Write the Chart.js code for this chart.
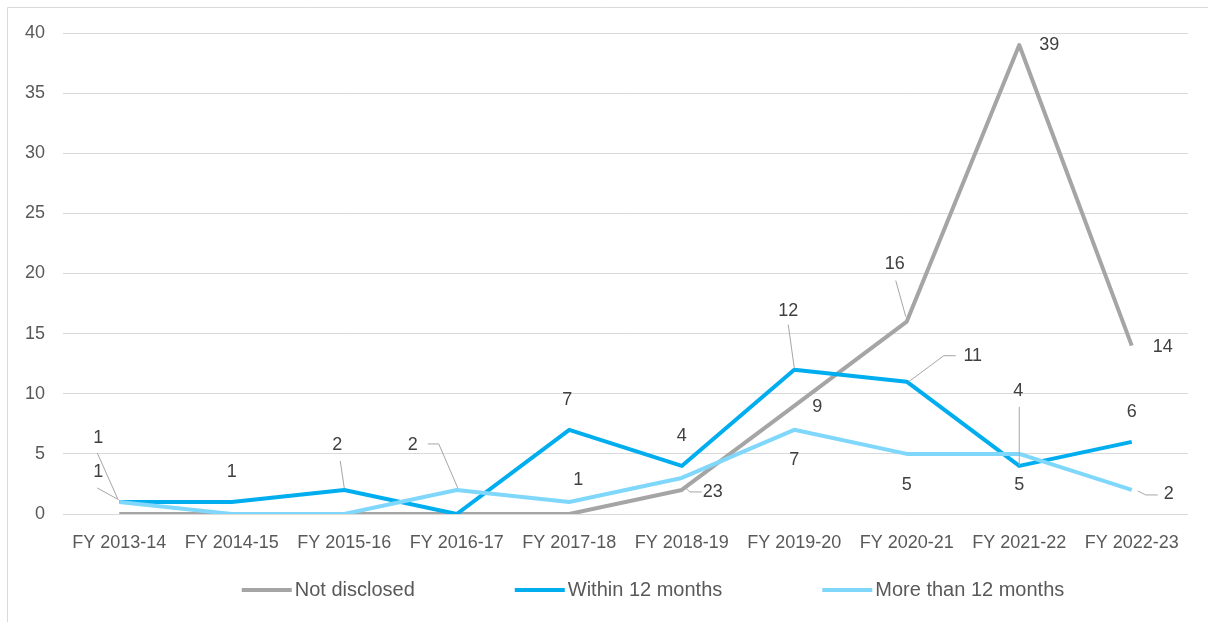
<!DOCTYPE html>
<html>
<head>
<meta charset="utf-8">
<title>Disclosure timing by financial year</title>
<script src="https://cdn.jsdelivr.net/npm/chart.js@4.4.1/dist/chart.umd.min.js"></script>
<style>
  html, body { margin: 0; padding: 0; background: #ffffff; }
  #chart { display: block; }
</style>
</head>
<body>
<canvas id="chart" width="1208" height="622"></canvas>
<script>
// Financial years on the x axis
const fiscalYears = ['FY 2013-14', 'FY 2014-15', 'FY 2015-16', 'FY 2016-17', 'FY 2017-18',
                     'FY 2018-19', 'FY 2019-20', 'FY 2020-21', 'FY 2021-22', 'FY 2022-23'];

// Counts per year for each series
const notDisclosed     = [0, 0, 0, 0, 0, 2, 9, 16, 39, 14];
const within12Months   = [1, 1, 2, 0, 7, 4, 12, 11, 4, 6];
const moreThan12Months = [1, 0, 0, 2, 1, 3, 7, 5, 5, 2];

// Value axis range
const yMin = 0;
const yMax = 40;
const yStep = 5;

// Where each value label sits relative to its point (pixels), with optional leader line
const notDisclosedLabels = {
  5: { at: [26, 2], leader: [[2, -4], [8, 2], [20, 2]] },
  6: { at: [23, 1] },
  7: { at: [-12, -58], leader: [[-1, -5], [-11, -41]] },
  8: { at: [30, 0] },
  9: { at: [31, 1] }
};
const within12Labels = {
  0: { at: [-21, -64], leader: [[-1, -2], [-22, -49]] },
  1: { at: [0, -30] },
  2: { at: [-7, -45], leader: [[0, -2], [-4, -29]] },
  4: { at: [-2, -30] },
  5: { at: [0, -30] },
  6: { at: [-6, -59], leader: [[0, -2], [-6, -45]] },
  7: { at: [66, -26], leader: [[2, 0], [37, -26], [49, -26]] },
  8: { at: [-1, -75], leader: [[0, 0], [0, -59]] },
  9: { at: [0, -30] }
};
const moreThan12Labels = {
  0: { at: [-21, -30], leader: [[-2, -3], [-22, -14]] },
  3: { at: [-44, -45], leader: [[1, -2], [-18, -46], [-29, -46]] },
  4: { at: [9, -22] },
  5: { at: [36, 14] },
  6: { at: [0, 30] },
  7: { at: [0, 31] },
  8: { at: [0, 31] },
  9: { at: [37, 4], leader: [[6, 1], [14, 5], [26, 5]] }
};

const FONT = '"Liberation Sans", Arial, sans-serif';

// White page with a light frame along the top and left edges
const framePlugin = {
  id: 'frame',
  beforeDraw(chart) {
    const ctx = chart.ctx;
    ctx.save();
    ctx.fillStyle = '#ffffff';
    ctx.fillRect(0, 0, chart.width, chart.height);
    ctx.strokeStyle = '#d9d9d9';
    ctx.lineWidth = 1;
    ctx.beginPath();
    ctx.moveTo(7.5, chart.height);
    ctx.lineTo(7.5, 7.5);
    ctx.lineTo(chart.width, 7.5);
    ctx.stroke();
    ctx.restore();
  }
};

// Value labels next to the points, skipping zeros
const pointLabelPlugin = {
  id: 'pointLabels',
  afterDatasetsDraw(chart) {
    const ctx = chart.ctx;
    ctx.save();
    ctx.font = '18px ' + FONT;
    ctx.textAlign = 'center';
    ctx.textBaseline = 'middle';
    chart.data.datasets.forEach((ds, di) => {
      const meta = chart.getDatasetMeta(di);
      const placement = ds.labelPlacement || {};
      meta.data.forEach((pt, i) => {
        const v = ds.data[i];
        const p = placement[i];
        if (!p || !v) return;
        if (p.leader) {
          ctx.strokeStyle = '#a6a6a6';
          ctx.lineWidth = 1;
          ctx.beginPath();
          p.leader.forEach(([dx, dy], k) => {
            if (k === 0) ctx.moveTo(pt.x + dx, pt.y + dy);
            else ctx.lineTo(pt.x + dx, pt.y + dy);
          });
          ctx.stroke();
        }
        ctx.fillStyle = '#404040';
        ctx.fillText(String(v), pt.x + p.at[0], pt.y + p.at[1]);
      });
    });
    ctx.restore();
  }
};

// Legend with long line swatches, centred under the plot
const lineLegendPlugin = {
  id: 'lineLegend',
  afterDraw(chart, args, opts) {
    const ctx = chart.ctx;
    ctx.save();
    ctx.font = opts.fontSize + 'px ' + FONT;
    ctx.textBaseline = 'middle';
    ctx.textAlign = 'left';
    const items = chart.data.datasets.map(ds => ({
      label: ds.label,
      color: ds.borderColor,
      w: ctx.measureText(ds.label).width
    }));
    const total = items.reduce((s, it) => s + opts.swatch + opts.textGap + it.w, 0)
                + opts.itemGap * (items.length - 1);
    let x = opts.centerX - total / 2;
    const y = opts.y;
    items.forEach(it => {
      ctx.fillStyle = it.color;
      ctx.fillRect(x, y - 2, opts.swatch, 4);
      x += opts.swatch + opts.textGap;
      ctx.fillStyle = '#595959';
      ctx.fillText(it.label, x, y);
      x += it.w + opts.itemGap;
    });
    ctx.restore();
  }
};

new Chart(document.getElementById('chart'), {
  type: 'line',
  data: {
    labels: fiscalYears,
    datasets: [
      {
        label: 'Not disclosed',
        data: notDisclosed,
        borderColor: '#a5a5a5',
        backgroundColor: '#a5a5a5',
        labelPlacement: notDisclosedLabels,
        order: 3
      },
      {
        label: 'Within 12 months',
        data: within12Months,
        borderColor: '#00aeef',
        backgroundColor: '#00aeef',
        labelPlacement: within12Labels,
        order: 2
      },
      {
        label: 'More than 12 months',
        data: moreThan12Months,
        borderColor: '#7fd7fb',
        backgroundColor: '#7fd7fb',
        labelPlacement: moreThan12Labels,
        order: 1
      }
    ]
  },
  options: {
    responsive: false,
    devicePixelRatio: 1,
    animation: false,
    layout: { padding: { left: 0, right: 20, top: 33, bottom: 0 } },
    elements: {
      line: { borderWidth: 4, tension: 0, borderJoinStyle: 'round' },
      point: { radius: 0, hoverRadius: 0 }
    },
    scales: {
      x: {
        offset: true,
        grid: { display: false, drawTicks: false },
        border: { display: false },
        ticks: {
          color: '#595959',
          font: { family: FONT, size: 18 },
          padding: 18,
          maxRotation: 0,
          autoSkip: false
        },
        afterFit(scale) { scale.height = 108; }
      },
      y: {
        min: yMin,
        max: yMax,
        grid: { color: '#d9d9d9', lineWidth: 1, drawTicks: false },
        border: { display: false },
        ticks: {
          stepSize: yStep,
          color: '#595959',
          font: { family: FONT, size: 18 },
          padding: 18
        },
        afterFit(scale) { scale.width = 63; }
      }
    },
    plugins: {
      legend: { display: false },
      tooltip: { enabled: false },
      lineLegend: { fontSize: 20, swatch: 50, textGap: 3, itemGap: 100, centerX: 653, y: 590 }
    }
  },
  plugins: [framePlugin, pointLabelPlugin, lineLegendPlugin]
});
</script>
</body>
</html>
